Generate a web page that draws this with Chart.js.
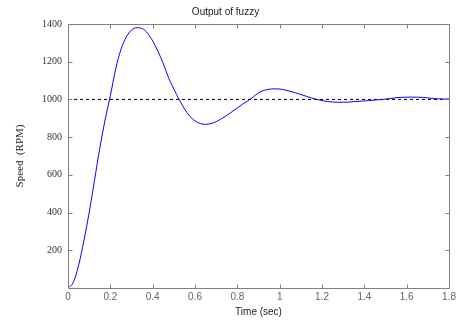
<!DOCTYPE html>
<html>
<head>
<meta charset="utf-8">
<script src="https://cdn.jsdelivr.net/npm/chart.js@4/dist/chart.umd.min.js"></script>
<style>
  html, body { margin: 0; padding: 0; background: #fff; }
  #chart { display: block; }
</style>
</head>
<body>
<canvas id="chart" width="459" height="320"></canvas>
<script>
// time samples (sec) and speed (RPM)
const times = [
  0, 0.025, 0.05, 0.075, 0.1, 0.125, 0.15, 0.175, 0.2, 0.225,
  0.25, 0.275, 0.3, 0.325, 0.35, 0.375, 0.4, 0.425, 0.45, 0.475,
  0.5, 0.525, 0.55, 0.575, 0.6, 0.625, 0.65, 0.675, 0.7, 0.725,
  0.75, 0.775, 0.8, 0.825, 0.85, 0.875, 0.9, 0.925, 0.95, 0.975,
  1.0, 1.025, 1.05, 1.075, 1.1, 1.125, 1.15, 1.175, 1.2, 1.225,
  1.25, 1.275, 1.3, 1.325, 1.35, 1.375, 1.4, 1.425, 1.45, 1.475,
  1.5, 1.525, 1.55, 1.575, 1.6, 1.625, 1.65, 1.675, 1.7, 1.725,
  1.75, 1.775, 1.8
];
const speed = [
  0, 30, 120, 250, 400, 570, 740, 890, 1020, 1160,
  1265, 1330, 1368, 1380, 1376, 1352, 1310, 1255, 1190, 1115,
  1055, 1000, 950, 912, 886, 872, 868, 872, 882, 898,
  915, 935, 955, 975, 993, 1013, 1035, 1048, 1054, 1056,
  1055, 1050, 1043, 1035, 1026, 1017, 1008, 1000, 994, 989,
  986, 985, 985, 986, 988, 990, 992, 994, 997, 999,
  1002, 1005, 1009, 1011, 1012, 1012, 1012, 1011, 1008, 1005,
  1003, 1002, 1002
];
const setpoint = 1000;
const xTicks = [0, 0.2, 0.4, 0.6, 0.8, 1, 1.2, 1.4, 1.6, 1.8];
const yTicks = [200, 400, 600, 800, 1000, 1200, 1400];

const AXIS = '#808080';

// matlab style box with ticks pointing inward
const frame = {
  id: 'frame',
  afterDraw(chart) {
    const { ctx, chartArea: a, scales: { x, y } } = chart;
    const L = Math.round(a.left) + 0.5, R = Math.round(a.right) + 0.5;
    const T = Math.round(a.top) + 0.5, B = Math.round(a.bottom) + 0.5;
    ctx.save();
    ctx.strokeStyle = AXIS;
    ctx.lineWidth = 1;
    ctx.beginPath();
    ctx.rect(L, T, R - L, B - T);
    xTicks.forEach(v => {
      const px = Math.round(x.getPixelForValue(v)) + 0.5;
      ctx.moveTo(px, B); ctx.lineTo(px, B - 4);
      ctx.moveTo(px, T); ctx.lineTo(px, T + 4);
    });
    yTicks.forEach(v => {
      const py = Math.round(y.getPixelForValue(v)) + 0.5;
      ctx.moveTo(L, py); ctx.lineTo(L + 4, py);
      ctx.moveTo(R, py); ctx.lineTo(R - 4, py);
    });
    ctx.stroke();
    ctx.restore();
  }
};

new Chart(document.getElementById('chart'), {
  type: 'line',
  data: {
    datasets: [
      {
        data: times.map((t, i) => ({ x: t, y: speed[i] })),
        borderColor: '#0000ff',
        borderWidth: 1,
        pointRadius: 0,
        cubicInterpolationMode: 'monotone'
      },
      {
        data: [{ x: times[0], y: setpoint }, { x: times[times.length - 1], y: setpoint }],
        borderColor: '#000',
        borderWidth: 1,
        borderDash: [3, 3],
        pointRadius: 0
      }
    ]
  },
  options: {
    responsive: false,
    animation: false,
    layout: { padding: { left: 0, right: 8, top: 0, bottom: 0 } },
    plugins: {
      legend: { display: false },
      tooltip: { enabled: false },
      title: {
        display: true,
        text: 'Output of fuzzy',
        color: '#222',
        font: { family: 'Liberation Sans', size: 10, weight: 'normal' },
        padding: { top: 6, bottom: 6 }
      }
    },
    scales: {
      x: {
        type: 'linear',
        min: 0,
        max: 1.8,
        grid: { display: false, drawTicks: false },
        border: { display: false },
        afterBuildTicks: s => { s.ticks = xTicks.map(v => ({ value: v })); },
        afterFit: s => { s.height = 32; },
        ticks: {
          padding: 3,
          color: '#666',
          font: { family: 'Liberation Sans', size: 10 },
          maxRotation: 0,
          callback: v => String(+v.toFixed(1))
        },
        title: {
          display: true,
          text: 'Time (sec)',
          color: '#222',
          font: { family: 'Liberation Sans', size: 10 },
          padding: { top: 0, bottom: 2 }
        }
      },
      y: {
        min: 0,
        max: 1400,
        grid: { display: false, drawTicks: false },
        border: { display: false },
        afterBuildTicks: s => { s.ticks = yTicks.map(v => ({ value: v })); },
        afterFit: s => { s.width = 68; },
        ticks: {
          padding: 6,
          color: '#333',
          font: { family: 'Liberation Serif', size: 10 },
          callback: v => String(v)
        },
        title: {
          display: true,
          text: 'Speed  (RPM)',
          color: '#222',
          font: { family: 'Liberation Serif', size: 11 },
          padding: { top: 14, bottom: 0 }
        }
      }
    }
  },
  plugins: [frame]
});
</script>
</body>
</html>
